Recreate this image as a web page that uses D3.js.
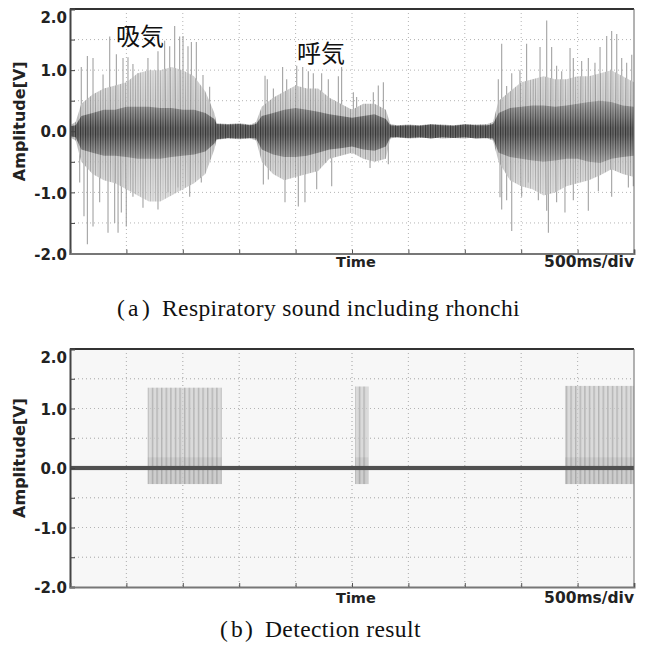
<!DOCTYPE html>
<html>
<head>
<meta charset="utf-8">
<script src="https://cdn.jsdelivr.net/npm/d3@7"></script>
<style>
body { margin: 0; background: #fff; }
svg { display: block; }
.ylbl { font-family: "DejaVu Sans", sans-serif; font-weight: bold; font-size: 15px; fill: #222; }
.xlbl { font-family: "DejaVu Sans", sans-serif; font-weight: bold; fill: #222; }
.cap { font-family: "Liberation Serif", "Times New Roman", serif; font-size: 23.5px; letter-spacing: 0.4px; fill: #111; }
.jp { font-family: "Noto Sans CJK JP", sans-serif; font-size: 24px; fill: #111; }
</style>
</head>
<body>
<div id="chart"></div>
<script>
// ---- data (time in ms, amplitude in V) ----
var envTime = [0,50,100,200,300,400,500,600,700,800,900,1000,1100,1200,1280,1300,1400,1500,1600,1650,
  1700,1800,1900,2000,2100,2200,2300,2400,2500,2600,2700,2800,2840,2900,3000,3100,3200,3300,3400,3500,3600,3700,
  3750,3800,3900,4000,4100,4200,4300,4400,4500,4600,4700,4800,4900,5000]
// light grey band of the waveform
var outerHi = [0.1,0.15,0.45,0.6,0.7,0.75,0.8,0.95,1.0,1.0,1.05,1.0,0.9,0.65,0.3,0.13,0.12,0.13,0.11,0.15,
  0.4,0.55,0.65,0.75,0.7,0.7,0.55,0.45,0.35,0.45,0.45,0.35,0.12,0.1,0.11,0.1,0.12,0.11,0.1,0.12,0.11,0.12,
  0.15,0.5,0.65,0.8,0.85,0.9,0.85,0.85,0.9,0.9,0.95,1.0,0.9,0.8]
var outerLo = [-0.1,-0.15,-0.5,-0.7,-0.8,-0.85,-0.95,-1.05,-1.15,-1.15,-1.05,-0.95,-0.85,-0.7,-0.3,-0.14,-0.12,-0.13,-0.12,-0.15,
  -0.5,-0.7,-0.8,-0.75,-0.7,-0.65,-0.45,-0.4,-0.35,-0.45,-0.5,-0.45,-0.12,-0.1,-0.12,-0.11,-0.1,-0.12,-0.11,-0.12,-0.1,-0.12,
  -0.15,-0.5,-0.8,-0.9,-0.95,-1.05,-1.0,-0.9,-0.85,-0.8,-0.72,-0.62,-0.7,-0.75]
// dark dense core
var coreHi = [0.08,0.1,0.25,0.3,0.35,0.35,0.4,0.4,0.4,0.38,0.38,0.35,0.35,0.3,0.2,0.12,0.11,0.12,0.1,0.12,
  0.25,0.3,0.35,0.38,0.35,0.32,0.28,0.25,0.22,0.25,0.28,0.2,0.1,0.09,0.1,0.09,0.11,0.1,0.09,0.11,0.1,0.1,
  0.12,0.3,0.38,0.4,0.42,0.42,0.4,0.42,0.45,0.48,0.5,0.48,0.42,0.4]
var coreLo = [-0.08,-0.1,-0.3,-0.35,-0.4,-0.4,-0.42,-0.45,-0.45,-0.45,-0.42,-0.4,-0.38,-0.33,-0.2,-0.13,-0.11,-0.12,-0.11,-0.12,
  -0.3,-0.38,-0.42,-0.42,-0.4,-0.35,-0.3,-0.28,-0.25,-0.3,-0.32,-0.25,-0.1,-0.1,-0.11,-0.1,-0.12,-0.1,-0.11,-0.1,-0.12,-0.11,
  -0.12,-0.35,-0.42,-0.45,-0.48,-0.5,-0.48,-0.45,-0.45,-0.5,-0.52,-0.45,-0.42,-0.4]

// tall single peaks
var spikeUpT = [100,154,204,293,352,411,470,514,558,603,691,780,839,884,928,972,1002,1046,1076,1120,1179,1238,
  1729,1749,1803,1885,1921,2010,2063,2113,2157,2231,2290,2379,2408,2512,2541,2689,2733,2778,
  3797,3827,3871,3916,3989,4048,4108,4167,4226,4270,4314,4359,4433,4462,4536,4595,4654,4699,4758,4802,4847,4891,4935,4980]
var spikeUpV = [1.05,1.23,1.2,0.93,1.55,1.26,1.2,1.21,1.1,0.95,1.2,1.31,1.48,1.39,1.72,1.55,1.56,1.39,1.46,1.46,0.92,0.73,
  0.91,0.85,0.7,1.05,0.85,1.07,1.05,0.98,0.95,0.95,0.85,0.9,1.05,0.64,0.56,0.64,0.75,0.8,
  0.85,1.43,0.74,0.95,1.0,1.43,0.85,1.38,1.81,1.38,1.07,0.98,1.36,1.2,1.15,1.2,1.12,1.38,1.56,1.64,1.59,1.2,1.12,1.25]
var spikeDnT = [86,124,154,204,263,337,396,426,455,499,558,647,780,869,957,1061,1164,
  1714,1758,1906,2024,2083,2187,2320,2660,2822,
  3812,3827,3871,3916,4004,4063,4152,4226,4241,4314,4388,4462,4595,4684,4802,4950,4994]
var spikeDnV = [-0.84,-1.39,-1.85,-1.56,-1.16,-1.66,-1.5,-1.66,-1.33,-1.56,-1.07,-1.25,-1.28,-1.0,-0.92,-1.07,-0.84,
  -0.87,-0.79,-1.16,-1.23,-1.16,-0.95,-0.9,-0.6,-0.54,
  -1.08,-1.28,-1.13,-1.63,-1.07,-0.84,-1.13,-1.3,-1.66,-1.16,-1.33,-1.13,-1.3,-0.98,-1.07,-0.92,-0.9]

// detection result blocks
var detStart = [689, 2527, 4388]
var detEnd = [1345, 2645, 5000]
var detHigh = [1.35, 1.37, 1.38]
var detLow = [-0.27, -0.27, -0.27]
var detMid = 0.18      // denser part of the pulses, from here down to detLow
var baseBand = 0.035

var yTicks = [-2, -1.5, -1, -0.5, 0, 0.5, 1, 1.5, 2]
var yLabels = ['-2.0', '', '-1.0', '', '0.0', '', '1.0', '', '2.0']
var xTicks = [0, 500, 1000, 1500, 2000, 2500, 3000, 3500, 4000, 4500, 5000]

var W = 646, H = 659
var left = 70, right = 634

var svg = d3.select('#chart').append('svg').attr('width', W).attr('height', H)
var defs = svg.append('defs')

// stripe patterns so the bands read like a dense trace
function stripe(id, w, bg, lines) {
  var p = defs.append('pattern').attr('id', id).attr('patternUnits', 'userSpaceOnUse')
    .attr('width', w).attr('height', 10)
  p.append('rect').attr('width', w).attr('height', 10).attr('fill', bg)
  lines.forEach(function(l) {
    p.append('rect').attr('x', l[0]).attr('width', l[1]).attr('height', 10).attr('fill', l[2])
  })
}
stripe('pOuter', 5, '#c9c9c9', [[0, 1, '#8e8e8e'], [2.5, 1, '#a8a8a8']])
stripe('pCore', 2.5, '#6c6c6c', [[0, 1, '#343434']])
stripe('pDet', 4.6, '#dadada', [[0, 1.4, '#b4b4b4']])

// vertical fade so the bands have soft edges
function fade(id, y0, y1, stops) {
  var gr = defs.append('linearGradient').attr('id', id + 'G').attr('gradientUnits', 'userSpaceOnUse')
    .attr('x1', 0).attr('x2', 0).attr('y1', y0).attr('y2', y1)
  stops.forEach(function(s) {
    gr.append('stop').attr('offset', s[0]).attr('stop-color', '#fff').attr('stop-opacity', s[1])
  })
  defs.append('mask').attr('id', id).attr('maskUnits', 'userSpaceOnUse')
    .attr('x', 0).attr('y', 0).attr('width', W).attr('height', H)
    .append('rect').attr('width', W).attr('height', H).attr('fill', 'url(#' + id + 'G)')
}

function drawGrid(g, x, y, top, bottom) {
  var grid = g.append('g').attr('class', 'grid')
  grid.selectAll('.gh').data(yTicks.slice(1, -1)).enter().append('line')
    .attr('x1', left).attr('x2', right).attr('y1', d => y(d)).attr('y2', d => y(d))
  grid.selectAll('.gv').data(xTicks.slice(1, -1)).enter().append('line')
    .attr('y1', top).attr('y2', bottom).attr('x1', d => x(d)).attr('x2', d => x(d))
  grid.selectAll('line').attr('stroke', '#b4b4b4').attr('stroke-width', 1).attr('stroke-dasharray', '1,3')
  return grid
}

function panel(id, top, bottom, bg, textY) {
  var x = d3.scaleLinear().domain([0, 5000]).range([left, right])
  var y = d3.scaleLinear().domain([-2, 2]).range([bottom, top])
  var g = svg.append('g')

  g.append('rect').attr('x', left).attr('y', top).attr('width', right - left).attr('height', bottom - top)
    .attr('fill', bg)

  defs.append('clipPath').attr('id', id).append('rect')
    .attr('x', left).attr('y', top).attr('width', right - left).attr('height', bottom - top)

  drawGrid(g, x, y, top, bottom)
  var plot = g.append('g').attr('clip-path', 'url(#' + id + ')')
  var over = g.append('g')   // things that sit above the trace

  // frame
  g.append('line').attr('x1', left).attr('x2', right).attr('y1', top).attr('y2', top)
    .attr('stroke', '#333').attr('stroke-width', 2)
  g.append('line').attr('x1', right).attr('x2', right).attr('y1', top).attr('y2', bottom)
    .attr('stroke', '#666').attr('stroke-width', 1)

  var ya = d3.axisLeft(y).tickValues(yTicks).tickSize(-5).tickPadding(3)
    .tickFormat((d, i) => yLabels[i])
  var yg = g.append('g').attr('transform', 'translate(' + left + ',0)').call(ya)
  yg.select('.domain').attr('stroke', '#444').attr('stroke-width', 2)
  yg.selectAll('.tick line').attr('stroke', '#444')
  yg.selectAll('.tick text').attr('class', 'ylbl').attr('dy', d => d == 2 ? '0.9em' : '0.38em')

  var xa = d3.axisBottom(x).tickValues(xTicks).tickSize(-4).tickFormat('')
  var xg = g.append('g').attr('transform', 'translate(0,' + bottom + ')').call(xa)
  xg.select('.domain').attr('stroke', '#777').attr('stroke-width', 2)
  xg.selectAll('.tick line').attr('stroke', '#555')

  g.append('text').attr('class', 'xlbl').attr('x', 336).attr('y', textY).style('font-size', '14.5px').text('Time')
  g.append('text').attr('class', 'xlbl').attr('x', right).attr('y', textY).attr('text-anchor', 'end')
    .style('font-size', '15.5px').text('500ms/div')

  g.append('text').attr('class', 'ylbl').style('font-size', '16px').attr('text-anchor', 'middle')
    .attr('transform', 'translate(25,' + (y(0) - 10) + ') rotate(-90)').text('Amplitude[V]')

  return { x: x, y: y, g: g, plot: plot, over: over, top: top, bottom: bottom }
}

function caption(letter, body, x0, baseY) {
  var t = svg.append('text').attr('class', 'cap').attr('y', baseY)
  t.append('tspan').attr('x', x0).text('(')
  t.append('tspan').attr('x', x0 + 11).text(letter)
  t.append('tspan').attr('x', x0 + 25).text(')')
  t.append('tspan').attr('x', x0 + 45).text(body)
}

// ---- (a) respiratory sound ----
var a = panel('clipA', 9, 253.5, '#fff', 267)
var env = envTime.map((t, i) => ({ t: t, oh: outerHi[i], ol: outerLo[i], ch: coreHi[i], cl: coreLo[i] }))

fade('mOuter', a.y(1.2), a.y(-1.2), [[0, 0.55], [0.35, 0.85], [0.5, 1], [0.65, 0.85], [1, 0.55]])
fade('mCore', a.y(0.55), a.y(-0.55), [[0, 0.3], [0.3, 0.75], [0.45, 1], [0.55, 1], [0.7, 0.75], [1, 0.3]])

var ups = spikeUpT.map((t, i) => ({ t: t, v: spikeUpV[i] }))
var dns = spikeDnT.map((t, i) => ({ t: t, v: spikeDnV[i] }))
a.plot.selectAll('.sp').data(ups.concat(dns)).enter().append('line')
  .attr('x1', d => a.x(d.t)).attr('x2', d => a.x(d.t))
  .attr('y1', a.y(0)).attr('y2', d => a.y(d.v))
  .attr('stroke', '#a2a2a2').attr('stroke-width', 1.1)

var outerArea = d3.area().x(d => a.x(d.t)).y0(d => a.y(d.ol)).y1(d => a.y(d.oh))
var coreArea = d3.area().x(d => a.x(d.t)).y0(d => a.y(d.cl)).y1(d => a.y(d.ch))
a.plot.append('path').datum(env).attr('d', outerArea).attr('fill', 'url(#pOuter)').attr('mask', 'url(#mOuter)')
a.plot.append('path').datum(env).attr('d', coreArea).attr('fill', 'url(#pCore)').attr('mask', 'url(#mCore)')

svg.append('text').attr('class', 'jp').attr('x', 116).attr('y', 45).text('吸気')
svg.append('text').attr('class', 'jp').attr('x', 297).attr('y', 62).text('呼気')

caption('a', 'Respiratory sound including rhonchi', 117, 316)

// ---- (b) detection result ----
var b = panel('clipB', 349, 587, '#f7f7f7', 603)
var det = detStart.map((s, i) => ({ s: s, e: detEnd[i], hi: detHigh[i], lo: detLow[i] }))
b.plot.selectAll('.det').data(det).enter().append('rect')
  .attr('x', d => b.x(d.s)).attr('width', d => b.x(d.e) - b.x(d.s))
  .attr('y', d => b.y(d.hi)).attr('height', d => b.y(d.lo) - b.y(d.hi))
  .attr('fill', 'url(#pDet)')
b.plot.selectAll('.detm').data(det).enter().append('rect')
  .attr('x', d => b.x(d.s)).attr('width', d => b.x(d.e) - b.x(d.s))
  .attr('y', b.y(detMid)).attr('height', d => b.y(d.lo) - b.y(detMid))
  .attr('fill', '#000').attr('opacity', 0.06)
// grid shows through the pulses here
drawGrid(b.over, b.x, b.y, b.top, b.bottom).attr('opacity', 0.6)
b.over.append('rect').attr('x', left).attr('width', right - left)
  .attr('y', b.y(baseBand)).attr('height', b.y(-baseBand) - b.y(baseBand)).attr('fill', '#505050')

caption('b', 'Detection result', 220, 637)
</script>
</body>
</html>
